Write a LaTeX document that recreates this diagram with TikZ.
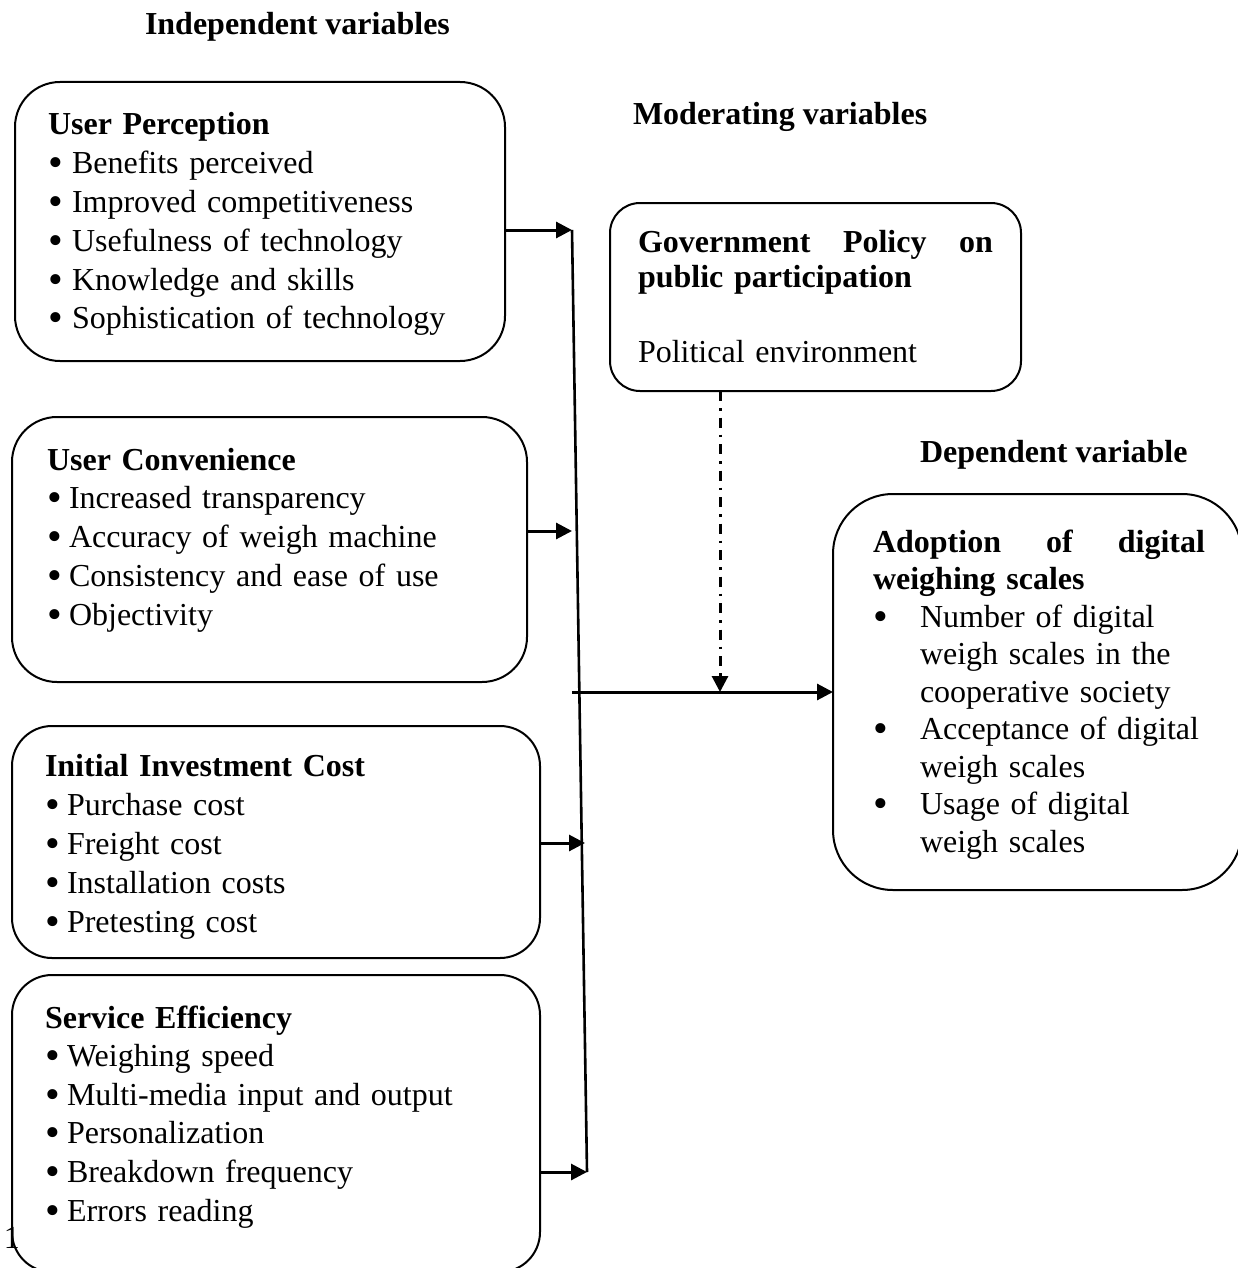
\documentclass[tikz,border=0pt]{standalone}
\usepackage{fontspec}
\setmainfont{Liberation Serif}
\usetikzlibrary{arrows.meta}
\newcommand{\bul}[1]{\makebox[#1][l]{\raisebox{-3pt}{\fontsize{42}{42}\selectfont\textbullet}}}
\begin{document}
\begin{tikzpicture}[x=1pt,y=-1pt,
  box/.style={draw, line width=2pt, inner sep=0pt, outer sep=0pt},
  txt/.style={inner sep=0pt, outer sep=0pt, anchor=base west, align=left, text width=#1},
  ttl/.style={inner sep=0pt, outer sep=0pt, anchor=base west, font=\fontsize{32}{38}\selectfont\bfseries},
  arr/.style={line width=3pt, -{Triangle[length=16pt,width=16pt]}},
  bus/.style={line width=2.6pt},
  dd/.style={line width=3pt, dash pattern=on 10pt off 7pt on 2.5pt off 7pt}
]
\useasboundingbox (0,0) rectangle (1238,1268);
\clip (0,0) rectangle (1238,1268);

% titles
\node[ttl] (h1) at (145,35) {Independent variables};
\node[ttl] (h2) at (633,125) {Moderating variables};
\node[ttl] (h3) at (920,462) {Dependent variable};

% boxes
\node[box, rounded corners=45pt, minimum width=490pt, minimum height=279pt] (b1) at (260,221.5) {};
\node[box, rounded corners=45pt, minimum width=515pt, minimum height=265pt] (b2) at (269.5,549.5) {};
\node[box, rounded corners=40pt, minimum width=528pt, minimum height=232pt] (b3) at (276,842) {};
\node[box, rounded corners=40pt, minimum width=528pt, minimum height=297pt] (b4) at (276,1123.5) {};
\node[box, rounded corners=30pt, minimum width=411pt, minimum height=188pt] (b5) at (815.5,297) {};
\node[box, rounded corners=60pt, minimum width=409pt, minimum height=396pt] (b6) at (1037.5,692) {};

% box texts
\node[txt=450pt, font=\fontsize{32}{38.8}\selectfont] (t1) at (48,135)
  {\textbf{User Perception}\\
   \bul{24pt}Benefits perceived\\
   \bul{24pt}Improved competitiveness\\
   \bul{24pt}Usefulness of technology\\
   \bul{24pt}Knowledge and skills\\
   \bul{24pt}Sophistication of technology};
\node[txt=470pt, font=\fontsize{32}{38.8}\selectfont] (t2) at (47,470)
  {\textbf{User Convenience}\\
   \bul{22pt}Increased transparency\\
   \bul{22pt}Accuracy of weigh machine\\
   \bul{22pt}Consistency and ease of use\\
   \bul{22pt}Objectivity};
\node[txt=480pt, font=\fontsize{32}{39}\selectfont] (t3) at (45,776)
  {\textbf{Initial Investment Cost}\\
   \bul{22pt}Purchase cost\\
   \bul{22pt}Freight cost\\
   \bul{22pt}Installation costs\\
   \bul{22pt}Pretesting cost};
\node[txt=480pt, font=\fontsize{32}{38.6}\selectfont] (t4) at (45,1028)
  {\textbf{Service Efficiency}\\
   \bul{22pt}Weighing speed\\
   \bul{22pt}Multi-media input and output\\
   \bul{22pt}Personalization\\
   \bul{22pt}Breakdown frequency\\
   \bul{22pt}Errors reading};
\node[txt=355pt, font=\fontsize{32}{35}\selectfont\bfseries] (t5) at (638,252)
  {Government\hfill Policy\hfill on\\public participation};
\node[txt=355pt, font=\fontsize{32}{38}\selectfont] (t5b) at (638,362) {Political environment};
\node[txt=332pt, font=\fontsize{32}{37.5}\selectfont] (t6) at (873,552)
  {\textbf{Adoption\hfill of\hfill digital}\\
   \textbf{weighing scales}\\
   \bul{47pt}Number of digital\\
   \hspace*{47pt}weigh scales in the\\
   \hspace*{47pt}cooperative society\\
   \bul{47pt}Acceptance of digital\\
   \hspace*{47pt}weigh scales\\
   \bul{47pt}Usage of digital\\
   \hspace*{47pt}weigh scales};

% stray page number fragment
\node[inner sep=0pt, anchor=base, font=\fontsize{32}{38}\selectfont] (pg) at (12,1248) {1};

% connectors
\coordinate (bt) at (572,230);
\coordinate (bb) at (587,1172);
\coordinate (j2) at (572,531);
\coordinate (j3) at (585,843);
\coordinate (hs) at (572,692);
\coordinate (m) at (720,692);

\draw[bus] (bt) -- (bb);
\draw[arr] (b1.east |- bt) -- (bt);
\draw[arr] (b2.east |- j2) -- (j2);
\draw[arr] (b3.east |- j3) -- (j3);
\draw[arr] (b4.east |- bb) -- (bb);
\draw[arr] (hs) -- (b6.west |- hs);
\draw[dd] (b5.south -| m) -- ++(0,283);
\draw[arr, shorten <=283pt] (b5.south -| m) -- (m);
\end{tikzpicture}
\end{document}
